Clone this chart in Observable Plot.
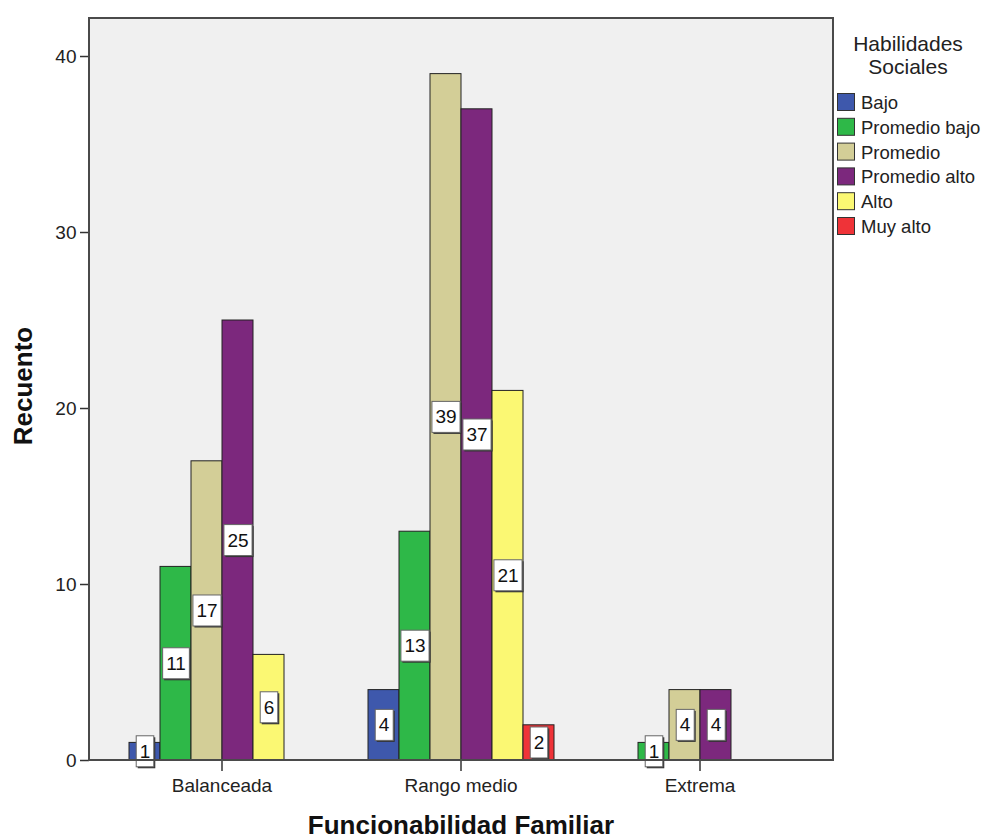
<!DOCTYPE html>
<html><head><meta charset="utf-8">
<script src="https://cdn.jsdelivr.net/npm/d3@7"></script>
<script src="https://cdn.jsdelivr.net/npm/@observablehq/plot@0.6"></script>
<style>body{margin:0;background:#fff;}</style>
</head><body><div id="chart"></div>
<script>
const categories = ["Balanceada", "Rango medio", "Extrema"];
const series = ["Bajo", "Promedio bajo", "Promedio", "Promedio alto", "Alto", "Muy alto"];
const colors = ["#3E58AC", "#2EB848", "#D3CE97", "#7C287D", "#FBF873", "#EF3338"];
const balanceada = [1, 11, 17, 25, 6, 0];
const rangoMedio = [4, 13, 39, 37, 21, 2];
const extrema = [0, 1, 4, 4, 0, 0];
const yTicks = [0, 10, 20, 30, 40];
const legendTitle = ["Habilidades", "Sociales"];
const xTitle = "Funcionabilidad Familiar";
const yTitle = "Recuento";

const table = [];
[balanceada, rangoMedio, extrema].forEach((vals, ci) =>
  vals.forEach((v, si) => { if (v > 0) table.push({cat: categories[ci], serie: series[si], value: v}); }));

const W = 984, H = 840, mL = 89, mR = 151, mT = 18, mB = 80;
const font = "'Liberation Sans', Arial, sans-serif";

const chart = Plot.plot({
  width: W, height: H,
  marginLeft: mL, marginRight: mR, marginTop: mT, marginBottom: mB,
  style: {fontFamily: font, fontSize: "19px", color: "#222", background: "transparent", overflow: "visible"},
  fx: {domain: categories, paddingInner: 0.2, paddingOuter: 0.154, label: null, axis: "bottom", tickSize: 11, tickPadding: 7},
  x: {domain: series, padding: 0, axis: null},
  y: {domain: [0, 42.16], ticks: yTicks, tickSize: 9, tickPadding: 4, label: null},
  color: {domain: series, range: colors},
  marks: [
    Plot.barY(table, {fx: "cat", x: "serie", y: "value", fill: "serie", stroke: "#222", strokeWidth: 1}),
    Plot.text(table, {fx: "cat", x: "serie", y: d => d.value / 2, text: d => String(d.value), fontSize: 19, fill: "#111"})
  ]
});
document.getElementById("chart").appendChild(chart);

const svg = d3.select(chart);
const pw = W - mL - mR, ph = H - mT - mB;
// plot background
svg.insert("rect", ":first-child").attr("x", mL).attr("y", mT).attr("width", pw).attr("height", ph).attr("fill", "#F0F0F0");

// move the y axis from the first facet's left edge to the frame's left edge
const fxScale = chart.scale("fx");
const firstBand = fxScale.apply(categories[0]);
const shift = firstBand - mL;
svg.selectAll('g[aria-label="y-axis tick"], g[aria-label="y-axis tick label"]').each(function() {
  const t = this.getAttribute("transform") || "";
  this.setAttribute("transform", `translate(${-shift},0) ${t}`);
});

// darker tick lines
svg.selectAll('g[aria-label="y-axis tick"] path, g[aria-label="fx-axis tick"] path').attr("stroke", "#333").attr("stroke-width", 1.5);

// label boxes
svg.selectAll('g[aria-label="text"] text').each(function() {
  const bb = this.getBBox();
  const w = bb.width + 7, h = 31;
  const cx = bb.x + bb.width / 2, cy = bb.y + bb.height / 2;
  const tr = this.getAttribute("transform");
  const parent = this.parentNode;
  const sh = document.createElementNS("http://www.w3.org/2000/svg", "rect");
  sh.setAttribute("x", cx - w / 2 + 1.5); sh.setAttribute("y", cy - h / 2 + 1.5);
  sh.setAttribute("width", w); sh.setAttribute("height", h); sh.setAttribute("fill", "#333");
  if (tr) sh.setAttribute("transform", tr);
  const bx = document.createElementNS("http://www.w3.org/2000/svg", "rect");
  bx.setAttribute("x", cx - w / 2); bx.setAttribute("y", cy - h / 2);
  bx.setAttribute("width", w); bx.setAttribute("height", h);
  bx.setAttribute("fill", "#fff"); bx.setAttribute("stroke", "#666"); bx.setAttribute("stroke-width", 1);
  if (tr) bx.setAttribute("transform", tr);
  parent.insertBefore(sh, this);
  parent.insertBefore(bx, this);
});

// frame
svg.append("rect").attr("x", mL).attr("y", mT).attr("width", pw).attr("height", ph)
  .attr("fill", "none").attr("stroke", "#4a4a4a").attr("stroke-width", 2);

// axis titles
svg.append("text").attr("x", mL + pw / 2).attr("y", 834).attr("text-anchor", "middle")
  .attr("font-family", font).attr("font-weight", "bold").attr("font-size", 26).attr("fill", "#111").text(xTitle);
svg.append("text").attr("transform", "translate(32,386) rotate(-90)").attr("text-anchor", "middle")
  .attr("font-family", font).attr("font-weight", "bold").attr("font-size", 26).attr("fill", "#111").text(yTitle);

// legend
const lg = svg.append("g").attr("font-family", font).attr("fill", "#222");
legendTitle.forEach((t, i) => lg.append("text").attr("x", 908).attr("y", 51 + i * 23).attr("text-anchor", "middle").attr("font-size", 21).text(t));
series.forEach((s, i) => {
  lg.append("rect").attr("x", 837.5).attr("y", 93.5 + i * 24.8).attr("width", 17).attr("height", 17)
    .attr("fill", colors[i]).attr("stroke", "#333").attr("stroke-width", 1);
  lg.append("text").attr("x", 861).attr("y", 109 + i * 24.8).attr("text-anchor", "start").attr("font-size", 18.5).text(s);
});
</script></body></html>
